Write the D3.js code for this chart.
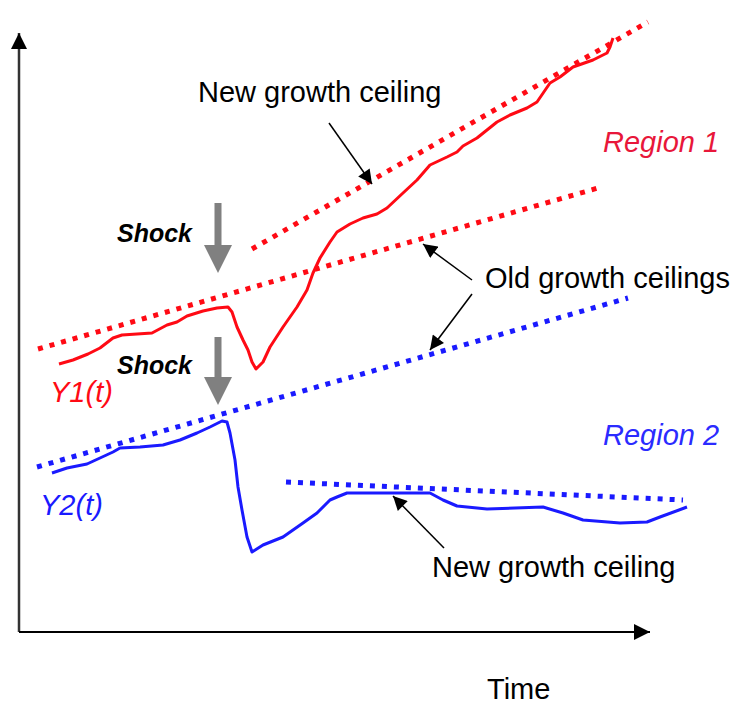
<!DOCTYPE html>
<html>
<head>
<meta charset="utf-8">
<script src="https://cdn.jsdelivr.net/npm/d3@7"></script>
<style>
  html, body { margin: 0; padding: 0; background: #fff; }
  svg text { font-family: "Liberation Sans", Arial, sans-serif; }
</style>
</head>
<body>
<svg id="chart" width="734" height="704"></svg>
<script>
// time offset / level pairs
var y1Curve = [
    [40, 268], [54, 272], [69, 278], [81, 284], [94, 294], [103, 297], [133, 299],
    [148, 307], [158, 310], [168, 316], [184, 321], [198, 324], [209, 325], [213, 320],
    [218, 305], [224, 292], [229, 282], [233, 270], [237, 263], [244, 270], [251, 285],
    [264, 305], [278, 325], [288, 342], [294, 359], [301, 374], [311, 390], [318, 400],
    [331, 408], [344, 414], [358, 418], [368, 424], [384, 439], [398, 452], [411, 467],
    [428, 475], [438, 480], [444, 486], [458, 494], [468, 502], [478, 510], [491, 517],
    [508, 524], [518, 530], [531, 549], [541, 555], [554, 565], [574, 572], [588, 579],
    [591, 585], [594, 594]
];
var y2Curve = [
    [33, 159], [48, 164], [68, 168], [81, 174], [94, 180], [101, 184], [121, 185],
    [144, 187], [161, 192], [178, 199], [191, 205], [203, 211], [208, 210], [211, 199],
    [216, 172], [219, 145], [223, 122], [228, 95], [233, 80], [244, 87], [264, 95],
    [284, 109], [298, 119], [311, 132], [318, 135], [328, 139], [374, 139], [411, 139],
    [424, 132], [438, 126], [468, 123], [524, 125], [544, 119], [564, 112], [601, 109],
    [628, 110], [641, 115], [668, 125]
];
var redCeilings = [
    [[19, 283], [579, 444]],   // old
    [[233, 383], [629, 610]]   // new
];
var blueCeilings = [
    [[18, 165], [609, 334]],   // old
    [[267, 150], [664, 132]]   // new
];
var shockTimes = [199, 199];
var shockLevels = [[429, 359], [295, 227]];

var svg = d3.select("#chart"),
    x = d3.scaleLinear().domain([0, 630]).range([19, 649]),
    y = d3.scaleLinear().domain([0, 600]).range([632, 32]),
    line = d3.line().x(function (d) { return x(d[0]); }).y(function (d) { return y(d[1]); }),
    defs = svg.append("defs");

function marker(id, color, w, h) {
    defs.append("marker")
        .attr("id", id)
        .attr("viewBox", "0 0 10 10")
        .attr("refX", 10).attr("refY", 5)
        .attr("markerUnits", "userSpaceOnUse")
        .attr("markerWidth", w).attr("markerHeight", h)
        .attr("orient", "auto")
        .append("path").attr("d", "M0,0L10,5L0,10Z").attr("fill", color);
}
marker("axisArrow", "#000", 16, 16);
marker("noteArrow", "#000", 15, 14);

// axes
svg.append("line")
    .attr("x1", x(0)).attr("y1", y(0)).attr("x2", x(0)).attr("y2", 33)
    .attr("stroke", "#333").attr("stroke-width", 2.5)
    .attr("marker-end", "url(#axisArrow)");
svg.append("line")
    .attr("x1", x(0)).attr("y1", y(0)).attr("x2", 650).attr("y2", y(0))
    .attr("stroke", "#000").attr("stroke-width", 2)
    .attr("marker-end", "url(#axisArrow)");

// dotted ceilings
function ceilings(data, color) {
    svg.selectAll(null).data(data).enter().append("path")
        .attr("d", line)
        .attr("fill", "none")
        .attr("stroke", color)
        .attr("stroke-width", 5)
        .attr("stroke-dasharray", "5,7");
}
ceilings(redCeilings, "#ff0a14");
ceilings(blueCeilings, "#1a1aff");

// curves
svg.append("path").datum(y1Curve).attr("d", line)
    .attr("fill", "none").attr("stroke", "#ff0a14").attr("stroke-width", 3)
    .attr("stroke-linejoin", "round");
svg.append("path").datum(y2Curve).attr("d", line)
    .attr("fill", "none").attr("stroke", "#1a1aff").attr("stroke-width", 3)
    .attr("stroke-linejoin", "round");

// shock arrows (gray block arrows)
shockLevels.forEach(function (lv, i) {
    var cx = x(shockTimes[i]), top = y(lv[0]), tip = y(lv[1]);
    svg.append("rect")
        .attr("x", cx - 3.5).attr("y", top)
        .attr("width", 7).attr("height", tip - top - 27)
        .attr("fill", "#808080");
    svg.append("path")
        .attr("d", "M" + (cx - 14) + "," + (tip - 28) + "L" + (cx + 14) + "," + (tip - 28) + "L" + cx + "," + tip + "Z")
        .attr("fill", "#808080");
    svg.append("text")
        .attr("x", 117).attr("y", i === 0 ? 242 : 374)
        .attr("font-size", 25).attr("font-weight", "bold").attr("font-style", "italic")
        .text("Shock");
});

// annotation arrows
var notes = [
    [329, 123, 372, 184],
    [472, 280, 423, 244],
    [472, 294, 430, 350],
    [444, 548, 393, 496]
];
svg.selectAll(null).data(notes).enter().append("line")
    .attr("x1", function (d) { return d[0]; }).attr("y1", function (d) { return d[1]; })
    .attr("x2", function (d) { return d[2]; }).attr("y2", function (d) { return d[3]; })
    .attr("stroke", "#000").attr("stroke-width", 1.5)
    .attr("marker-end", "url(#noteArrow)");

// labels
var labels = [
    {t: "New growth ceiling", x: 198, y: 102, c: "#000", i: false},
    {t: "Region 1", x: 603, y: 152, c: "#e8173a", i: true},
    {t: "Old growth ceilings", x: 485, y: 288, c: "#000", i: false},
    {t: "Y1(t)", x: 50, y: 402, c: "#ff0a14", i: true},
    {t: "Region 2", x: 603, y: 445, c: "#2b2bff", i: true},
    {t: "Y2(t)", x: 40, y: 515, c: "#1a1aff", i: true},
    {t: "New growth ceiling", x: 432, y: 577, c: "#000", i: false},
    {t: "Time", x: 487, y: 699, c: "#000", i: false}
];
svg.selectAll(null).data(labels).enter().append("text")
    .attr("x", function (d) { return d.x; })
    .attr("y", function (d) { return d.y; })
    .attr("fill", function (d) { return d.c; })
    .attr("font-style", function (d) { return d.i ? "italic" : "normal"; })
    .attr("font-size", 29)
    .text(function (d) { return d.t; });
</script>
</body>
</html>
